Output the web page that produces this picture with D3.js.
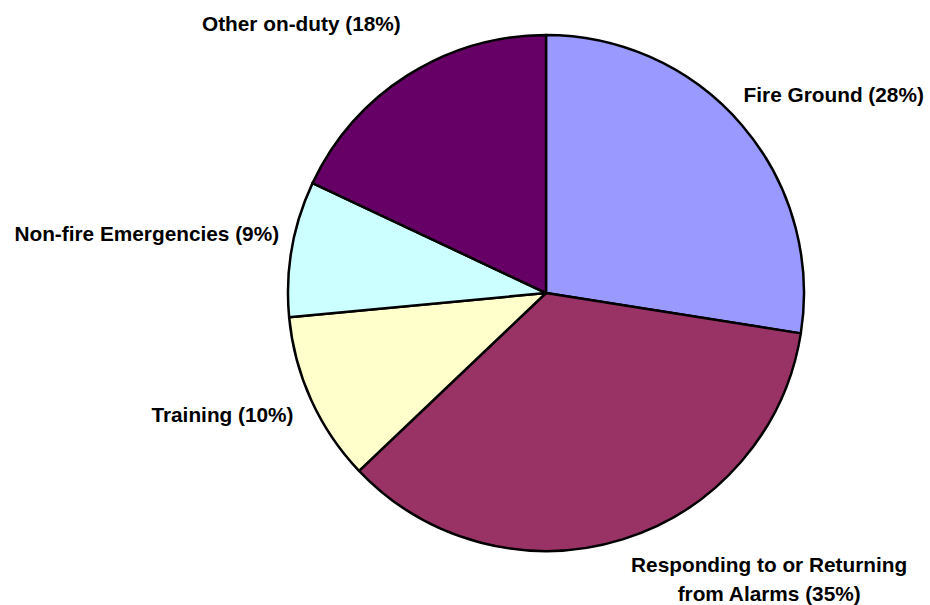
<!DOCTYPE html>
<html>
<head>
<meta charset="utf-8">
<script src="https://cdn.jsdelivr.net/npm/d3@7"></script>
<style>
    body { margin: 0; background: #fff; }
    svg text { font-family: "Liberation Sans", Arial, sans-serif; font-weight: bold; font-size: 20.8px; fill: #000; }
</style>
</head>
<body>
<svg id="chart"></svg>
<script>
// slices, clockwise from 12 o'clock
var categories = ['Fire Ground', 'Responding to or Returning from Alarms', 'Training', 'Non-fire Emergencies', 'Other on-duty'];
var values = [27.5, 35.4, 10.6, 8.5, 18.0];
var labelLines = [
    ['Fire Ground (28%)'],
    ['Responding to or Returning', 'from Alarms (35%)'],
    ['Training (10%)'],
    ['Non-fire Emergencies (9%)'],
    ['Other on-duty (18%)']
];
var colors = ['#9999FF', '#993366', '#FFFFCC', '#CCFFFF', '#660066'];

var width = 930;
var height = 605;
var cx = 546, cy = 293;
var radius = 258;
var gap = 15;
var lineHeight = 29;

// small hand tweaks so labels sit where excel put them
var nudge = [[-10, -8], [4, 2], [-4, 0], [2, 1], [1, -26]];

var svg = d3.select('#chart')
    .attr('width', width)
    .attr('height', height);

var pie = d3.pie().sort(null).value(function (d) { return d; });
var arcs = pie(values);
var arc = d3.arc().innerRadius(0).outerRadius(radius);

var g = svg.append('g')
    .attr('transform', 'translate(' + cx + ',' + cy + ')');

g.selectAll('path').data(arcs)
    .enter()
    .append('path')
    .attr('d', arc)
    .style('fill', function (d, i) { return colors[i]; })
    .style('stroke', '#000')
    .style('stroke-width', 2.5)
    .style('stroke-linejoin', 'round');

// labels: outside end, corner nearest the pie sits on the mid-angle ray
arcs.forEach(function (d, i) {
    var mid = (d.startAngle + d.endAngle) / 2;
    var ux = Math.sin(mid), uy = -Math.cos(mid);
    var ax = ux * (radius + gap), ay = uy * (radius + gap);

    var t = g.append('text').attr('text-anchor', 'middle');
    labelLines[i].forEach(function (line, j) {
        t.append('tspan').attr('x', 0).attr('dy', j == 0 ? 0 : lineHeight).text(line);
    });

    var w = 0;
    t.selectAll('tspan').each(function () {
        w = Math.max(w, this.getComputedTextLength());
    });
    var n = labelLines[i].length;

    var x = ux >= 0 ? ax + w / 2 : ax - w / 2;
    var y;
    if (uy < 0) {
        y = ay - 6 - (n - 1) * lineHeight;
    } else {
        y = ay + 16;
    }
    x += nudge[i][0];
    y += nudge[i][1];
    t.selectAll('tspan').attr('x', x);
    t.select('tspan').attr('y', y);
});
</script>
</body>
</html>
